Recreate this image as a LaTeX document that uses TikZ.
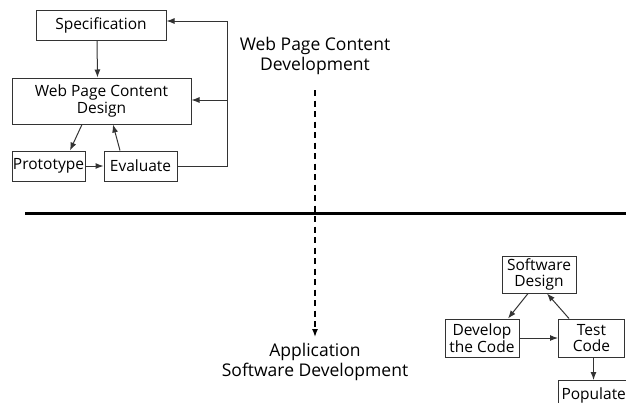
\documentclass[tikz,border=0pt]{standalone}
\usepackage{fontspec}
\setmainfont{Open Sans}
\usetikzlibrary{arrows.meta}

\begin{document}
\begin{tikzpicture}[x=1pt,y=-1pt,>={Latex[length=8pt,width=6pt]},
  box/.style = {draw = black!80, line width = 1pt, inner sep = 0pt, align = center,
                font = \fontsize{15.5}{16.5}\selectfont},
  lbl/.style = {align = center, font = \fontsize{17.5}{19.5}\selectfont},
  flow/.style = {draw = black!80, line width = 1pt, ->}]
\useasboundingbox (0,0) rectangle (626,402);
% web page content development
\node[box, minimum width = 130, minimum height = 30] (spec) at (101,25) {Specification};
\node[box, minimum width = 179, minimum height = 46] (design) at (101.5,101) {Web Page Content\\Design};
\node[box, minimum width = 73, minimum height = 30] (proto) at (48.5,166) {Prototype};
\node[box, minimum width = 73, minimum height = 30] (eval) at (140.5,166) {Evaluate};
\coordinate (back) at (227,21);
\coordinate (back2) at (227,100);
\draw[flow] ([xshift = -4]spec.south) -- ([xshift = -4]design.north);
\draw[flow] ([xshift = -19.5]design.south) -- ([xshift = 21.5]proto.north);
\draw[flow] ([xshift = -20.5]eval.north) -- ([xshift = 11.5]design.south);
\draw[flow] (proto.east) -- (eval.west);
\draw[flow] (eval.east) -| (back) -- (spec.east |- back);
\draw[flow] (back2) -- (design.east |- back2);
% the two parts
\node[lbl] (web) at (315,56) {Web Page Content\\Development};
\node[lbl] (app) at (315,362) {Application\\Software Development};
\coordinate (start) at (315,90);
\coordinate (stop) at (315,337);
\draw[line width = 1.4pt, dash pattern = on 6pt off 4.5pt, ->] (start) -- (stop);
\coordinate (lineL) at (25,213);
\coordinate (lineR) at (626,213);
\draw[line width = 3pt] (lineL) -- (lineR);
% application software development
\node[box, minimum width = 74, minimum height = 37] (sd) at (539,274.5) {Software\\Design};
\node[box, minimum width = 74, minimum height = 38] (dev) at (482,338) {Develop\\the Code};
\node[box, minimum width = 66, minimum height = 38] (test) at (591.5,338) {Test\\Code};
\node[box, anchor = north west, text width = 84, align = left, inner xsep = 3pt,
      minimum height = 30] (pop) at (558,380) {Populate};
\coordinate (popin) at (593.5,380);
\draw[flow] ([xshift = -11]sd.south) -- ([xshift = 26]dev.north);
\draw[flow] ([xshift = -22.5]test.north) -- ([xshift = 8]sd.south);
\draw[flow] (dev.east) -- (test.west);
\draw[flow] (test.south -| popin) -- (popin);
\end{tikzpicture}
\end{document}
